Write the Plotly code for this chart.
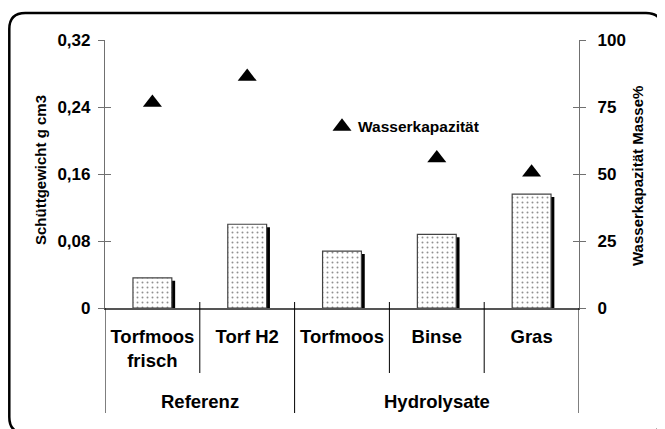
import plotly.graph_objects as go

# ---------------- data ----------------
categories = ["Torfmoos<br>frisch", "Torf H2", "Torfmoos", "Binse", "Gras"]
groups = ["Referenz", "Hydrolysate"]
group_centers = [0.5, 3.0]
group_bounds = [-0.5, 1.5, 4.5]
inner_bounds = [0.5, 2.5, 3.5]
schuettgewicht = [0.036, 0.100, 0.068, 0.088, 0.136]      # g cm3 (left axis)
wasserkapazitaet = [76.6, 86.3, 67.7, 55.9, 50.6]          # Masse% (right axis)
left_ticks = [0, 0.08, 0.16, 0.24, 0.32]
left_ticktext = ["0", "0,08", "0,16", "0,24", "0,32"]
right_ticks = [0, 25, 50, 75, 100]
right_ticktext = ["0", "25", "50", "75", "100"]

# ---------------- geometry (page px -> figure paper) ----------------
OFF = 8                      # page body margin
W, H = 665 - OFF, 429 - OFF
L, R, T, B = 105 - OFF, 86, 40 - OFF, 121
PW, PH = W - L - R, H - T - B


def px_x(px):
    return (px - OFF - L) / PW


def px_y(py):
    return (H - B - (py - OFF)) / PH


FONT = "Liberation Sans, Arial, sans-serif"
bar_w = 0.41
shadow_dx = 0.035
shadow_dy = 3 * (0.32 / PH)

fig = go.Figure()

# shadow bars
fig.add_trace(go.Bar(
    x=categories, y=[v - shadow_dy for v in schuettgewicht],
    width=bar_w, offset=-bar_w / 2 + shadow_dx,
    marker=dict(color="black", line=dict(width=0)),
    hoverinfo="skip", showlegend=False,
))
# dotted bars
fig.add_trace(go.Bar(
    x=categories, y=schuettgewicht,
    width=bar_w, offset=-bar_w / 2,
    marker=dict(color="white", line=dict(color="#444444", width=1.2),
                pattern=dict(shape=".", fgcolor="#222222", bgcolor="white",
                             size=5, solidity=0.12)),
    name="Schüttgewicht", showlegend=False,
))
# triangles
fig.add_trace(go.Scatter(
    x=categories, y=wasserkapazitaet, yaxis="y2", mode="markers",
    marker=dict(symbol="triangle-up", size=16.5, color="black"),
    name="Wasserkapazität", showlegend=False,
))
# dummy traces to activate the crossing-tick axes
fig.add_trace(go.Scatter(x=categories, y=[None] * 5, yaxis="y3",
                         showlegend=False, hoverinfo="skip"))
fig.add_trace(go.Scatter(x=categories, y=[None] * 5, yaxis="y4",
                         showlegend=False, hoverinfo="skip"))

tickfont = dict(family=FONT, size=17, color="black", weight=700)
axcol = "#707070"

fig.update_layout(
    width=W, height=H,
    margin=dict(l=L, r=R, t=T, b=B, pad=0),
    paper_bgcolor="white", plot_bgcolor="white",
    barmode="overlay",
    showlegend=False,
    xaxis=dict(
        type="category", range=[-0.5, 4.5],
        showline=True, linecolor="#555555", linewidth=1.5,
        showgrid=False, zeroline=False, ticks="",
        tickfont=dict(family=FONT, size=18.5, color="black", weight=700),
        ticklabelstandoff=11,
    ),
    yaxis=dict(
        range=[0, 0.32], tickvals=left_ticks, ticktext=left_ticktext,
        showline=True, linecolor=axcol, linewidth=1.2,
        ticks="outside", ticklen=6, tickcolor=axcol, tickwidth=1.2,
        showgrid=False, zeroline=False, tickfont=tickfont,
        ticklabelstandoff=4,
    ),
    yaxis2=dict(
        range=[0, 100], tickvals=right_ticks, ticktext=right_ticktext,
        overlaying="y", side="right", anchor="x",
        showline=True, linecolor=axcol, linewidth=1.2,
        ticks="outside", ticklen=6, tickcolor=axcol, tickwidth=1.2,
        showgrid=False, zeroline=False, tickfont=tickfont,
        ticklabelstandoff=8,
    ),
    yaxis3=dict(
        range=[0, 0.32], tickvals=left_ticks, overlaying="y", side="left",
        anchor="x", showline=False, ticks="inside", ticklen=6,
        tickcolor=axcol, tickwidth=1.2, showticklabels=False,
        showgrid=False, zeroline=False,
    ),
    yaxis4=dict(
        range=[0, 100], tickvals=right_ticks, overlaying="y", side="right",
        anchor="x", showline=False, ticks="inside", ticklen=6,
        tickcolor=axcol, tickwidth=1.2, showticklabels=False,
        showgrid=False, zeroline=False,
    ),
)

shapes = []
# category dividers
for xb in inner_bounds:
    shapes.append(dict(type="line", xref="x", yref="paper", x0=xb, x1=xb,
                       y0=px_y(302), y1=px_y(373),
                       line=dict(color="black", width=1)))
for xb in group_bounds:
    top = 302 if 0 < xb < 4 else 308
    shapes.append(dict(type="line", xref="x", yref="paper", x0=xb, x1=xb,
                       y0=px_y(top), y1=px_y(413),
                       line=dict(color="black", width=1)))

# rounded outer frame (page px)
fl, ft, fr, fb, rad = 9.3, 13, 662, 433, 16


def P(px, py):
    return f"{px_x(px):.5f},{px_y(py):.5f}"


path = (f"M{P(fl + rad, ft)} L{P(fr - rad, ft)} Q{P(fr, ft)} {P(fr, ft + rad)} "
        f"L{P(fr, fb - rad)} Q{P(fr, fb)} {P(fr - rad, fb)} "
        f"L{P(fl + rad, fb)} Q{P(fl, fb)} {P(fl, fb - rad)} "
        f"L{P(fl, ft + rad)} Q{P(fl, ft)} {P(fl + rad, ft)} Z")
shapes.append(dict(type="path", xref="paper", yref="paper", path=path,
                   line=dict(color="black", width=2.5), layer="below"))
fig.update_layout(shapes=shapes)

ann = []
for g, c in zip(groups, group_centers):
    ann.append(dict(text=g, x=c, xref="x", y=px_y(401), yref="paper",
                    showarrow=False, xanchor="center", yanchor="middle",
                    font=dict(family=FONT, size=18.5, color="black", weight=700)))
# axis titles
ann.append(dict(text="Schüttgewicht g cm3", x=px_x(40), y=px_y(170),
                xref="paper", yref="paper", textangle=-90, showarrow=False,
                xanchor="center", yanchor="middle",
                font=dict(family=FONT, size=15, color="black", weight=700)))
ann.append(dict(text="Wasserkapazität Masse%", x=px_x(637), y=px_y(176),
                xref="paper", yref="paper", textangle=-90, showarrow=False,
                xanchor="center", yanchor="middle",
                font=dict(family=FONT, size=15, color="black", weight=700)))
# series label next to the third point
ann.append(dict(text="Wasserkapazität", x=categories[2], y=wasserkapazitaet[2],
                xref="x", yref="y2", xshift=14, showarrow=False,
                xanchor="left", yanchor="middle",
                font=dict(family=FONT, size=15.5, color="black", weight=700)))
fig.update_layout(annotations=ann)

fig.write_html("out.html")
